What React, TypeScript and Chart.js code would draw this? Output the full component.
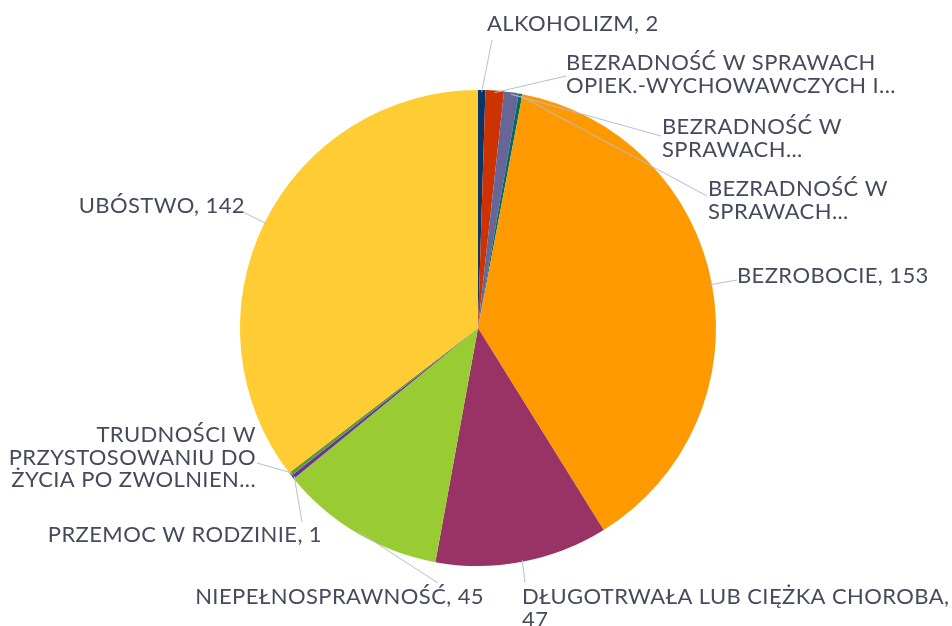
import React, { useEffect, useRef } from "react";
import { Chart, registerables } from "chart.js";

Chart.register(...registerables);

const categories = [
  "ALKOHOLIZM",
  "BEZRADNOŚĆ W SPRAWACH OPIEK.-WYCHOWAWCZYCH I PROWADZENIA GOSPODARSTWA DOMOWEGO",
  "BEZRADNOŚĆ W SPRAWACH OPIEK.-WYCH. - RODZINA NIEPEŁNA",
  "BEZRADNOŚĆ W SPRAWACH OPIEK.-WYCH. - RODZINA WIELODZIETNA",
  "BEZROBOCIE",
  "DŁUGOTRWAŁA LUB CIĘŻKA CHOROBA",
  "NIEPEŁNOSPRAWNOŚĆ",
  "PRZEMOC W RODZINIE",
  "TRUDNOŚCI W PRZYSTOSOWANIU DO ŻYCIA PO ZWOLNIENIU Z ZAKŁADU KARNEGO",
  "UBÓSTWO",
];

const values = [2, 5, 4, 1, 153, 47, 45, 1, 1, 142];

const labelLines = [
  ["ALKOHOLIZM, 2"],
  ["BEZRADNOŚĆ W SPRAWACH", "OPIEK.-WYCHOWAWCZYCH I..."],
  ["BEZRADNOŚĆ W", "SPRAWACH..."],
  ["BEZRADNOŚĆ W", "SPRAWACH..."],
  ["BEZROBOCIE, 153"],
  ["DŁUGOTRWAŁA LUB CIĘŻKA CHOROBA,", "47"],
  ["NIEPEŁNOSPRAWNOŚĆ, 45"],
  ["PRZEMOC W RODZINIE, 1"],
  ["TRUDNOŚCI W", "PRZYSTOSOWANIU DO", "ŻYCIA PO ZWOLNIEN..."],
  ["UBÓSTWO, 142"],
];

const colors = [
  "#0a3566",
  "#cc3300",
  "#666699",
  "#006b66",
  "#ff9900",
  "#993366",
  "#99cc33",
  "#663399",
  "#669933",
  "#ffcc33",
];

// label layout: text anchor (x, first line middle y), alignment, leader end point
const labelLayout = [
  { x: 487, y: 24, align: "left", ex: 492, ey: 40 },
  { x: 566, y: 63, align: "left", ex: 566, ey: 76 },
  { x: 662, y: 127, align: "left", ex: 661, ey: 136 },
  { x: 708, y: 189, align: "left", ex: 707, ey: 196 },
  { x: 737, y: 276, align: "left", ex: 737, ey: 280 },
  { x: 522, y: 597, align: "left", ex: 525, ey: 583 },
  { x: 484, y: 597, align: "right", ex: 438, ey: 583 },
  { x: 322, y: 535, align: "right", ex: 302, ey: 522 },
  { x: 256, y: 435, align: "right", ex: 257, ey: 463 },
  { x: 245, y: 206, align: "right", ex: 243, ey: 212 },
];

const LINE_HEIGHT = 22.5;
const FONT = "22px Lato";
const TEXT_COLOR = "#464a5d";
const LEADER_COLOR = "#b3bfd1";

const outsideLabels = {
  id: "outsideLabels",
  afterDatasetsDraw(chart: any) {
    const ctx = chart.ctx;
    const meta = chart.getDatasetMeta(0);
    ctx.save();
    meta.data.forEach((arc: any, i: number) => {
      const p = arc.getProps(["x", "y", "startAngle", "endAngle", "outerRadius"], true);
      const mid = (p.startAngle + p.endAngle) / 2;
      const r = p.outerRadius - 2;
      const sx = p.x + Math.cos(mid) * r;
      const sy = p.y + Math.sin(mid) * r;
      const lay = labelLayout[i];
      ctx.beginPath();
      ctx.strokeStyle = LEADER_COLOR;
      ctx.lineWidth = 1;
      ctx.moveTo(sx, sy);
      ctx.lineTo(lay.ex, lay.ey);
      ctx.stroke();
      ctx.fillStyle = TEXT_COLOR;
      ctx.font = FONT;
      ctx.textAlign = lay.align;
      ctx.textBaseline = "middle";
      try { (ctx as any).letterSpacing = "0.4px"; } catch (e) {}
      labelLines[i].forEach((line, k) => {
        ctx.fillText(line, lay.x, lay.y + k * LINE_HEIGHT);
      });
    });
    ctx.restore();
  },
};

export default function App() {
  const ref = useRef<HTMLCanvasElement>(null);
  useEffect(() => {
    if (!ref.current) return;
    const chart = new Chart(ref.current, {
      type: "pie",
      data: {
        labels: categories,
        datasets: [
          {
            data: values,
            backgroundColor: colors,
            borderWidth: 0,
          },
        ],
      },
      options: {
        responsive: false,
        animation: false,
        layout: { padding: { top: 90, bottom: 60, left: 200, right: 196 } },
        plugins: {
          legend: { display: false },
          tooltip: { enabled: false },
        },
      },
      plugins: [outsideLabels],
    });
    return () => chart.destroy();
  }, []);
  return (
    <div style={{ position: "absolute", left: 0, top: 0, width: 952, height: 626, background: "#fff" }}>
      <canvas ref={ref} width={952} height={626} />
    </div>
  );
}
